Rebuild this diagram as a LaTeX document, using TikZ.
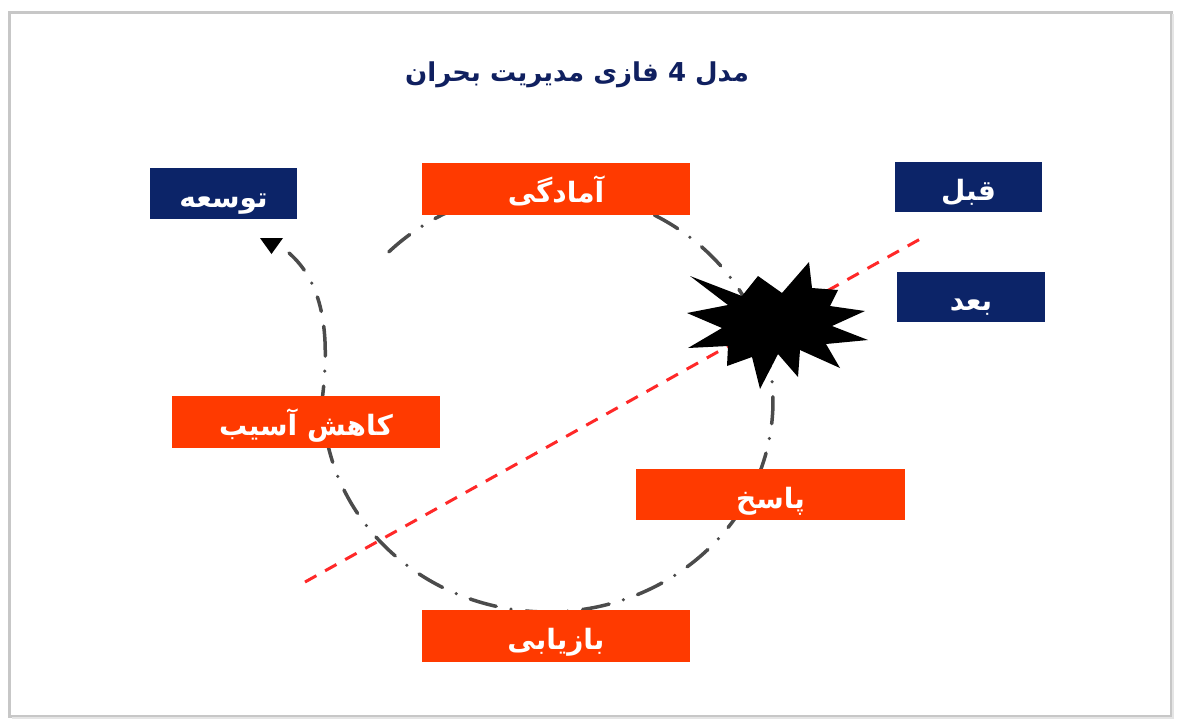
\documentclass[tikz,border=0pt]{standalone}
\usepackage{fontspec}
\newfontfamily\fa[Script=Arabic]{DejaVu Sans}
\TeXXeTstate=1
\newcommand\fatxt[1]{\beginR #1\endR}
\definecolor{navy}{RGB}{12,36,104}
\definecolor{titleblue}{RGB}{16,32,96}
\definecolor{fire}{RGB}{255,58,0}
\definecolor{cyc}{RGB}{75,75,75}
\definecolor{cut}{RGB}{255,40,40}
\tikzset{
  boxtext/.style={inner sep=0pt, text=white, text height=27pt, text depth=0pt, font=\fa\bfseries\fontsize{28}{32}\selectfont},
  phase/.style={boxtext, fill=fire, draw=none, minimum width=268pt, minimum height=52pt},
  tag/.style={boxtext, fill=navy, draw=none, minimum width=147pt, minimum height=51pt},
  cycle line/.style={draw=cyc, line width=3.5pt, line cap=round, dash pattern=on 27pt off 15pt on 0pt off 15pt},
  cut line/.style={draw=cut, line width=3pt, dash pattern=on 13pt off 10pt},
}
\begin{document}
\begin{tikzpicture}[x=1pt,y=-1pt]
\useasboundingbox (0,0) rectangle (1180,724);
\fill[white] (0,0) rectangle (1180,724);
\draw[black!22, line width=3pt] (9,12) rectangle (1171,716);
\draw[black!10, line width=2pt] (12,718) -- (1173,718) -- (1173,14);

% title
\node[text=titleblue, font=\fa\bfseries\fontsize{26}{30}\selectfont] (title) at (577,75) {\beginR مدل \beginL4\endL{} فازی مدیریت بحران\endR};

% cycle
\draw[cycle line] plot[domain=135:-180, samples=240, smooth] ({548+225*cos(\x)},{401-211*sin(\x)});
\coordinate (cycstart) at (322,401);
\coordinate (tip) at (272,246);
\draw[cycle line, dash pattern=on 15pt off 15pt on 0pt off 15pt on 30pt off 15pt] (cycstart) .. controls (331,330) and (322,282) .. (289,253);
\fill[black] (tip) ++(-12,-8) -- ++(23,0) -- ++(-11.5,16) -- cycle;

% before / after divider
\coordinate (cutA) at (305,582);
\coordinate (cutB) at (922,238);
\draw[cut line] (cutA) -- (cutB);

% crisis burst
\fill[black] (690,276) -- (742,296) -- (758,276) -- (782,293) -- (809,262) -- (812,288)
  -- (838,290) -- (830,306) -- (865,311) -- (832,326) -- (868,340) -- (826,344)
  -- (840,368) -- (800,350) -- (798,377) -- (778,354) -- (760,389) -- (752,357)
  -- (727,366) -- (728,346) -- (688,348) -- (722,328) -- (687,313) -- (728,305) -- cycle;

% boxes
\node[tag] (tow) at (223.5,193.5) {\fatxt{توسعه}};
\node[phase] (amad) at (556,189) {\fatxt{آمادگی}};
\node[tag, minimum height=50pt] (ghabl) at (968.5,187) {\fatxt{قبل}};
\node[tag, minimum height=50pt, minimum width=148pt] (baad) at (971,297) {\fatxt{بعد}};
\node[phase] (kahesh) at (306,422) {\fatxt{کاهش آسیب}};
\node[phase, minimum width=269pt, minimum height=51pt] (pasokh) at (770.5,494.5) {\fatxt{پاسخ}};
\node[phase] (baz) at (556,636) {\fatxt{بازیابی}};
\end{tikzpicture}
\end{document}
